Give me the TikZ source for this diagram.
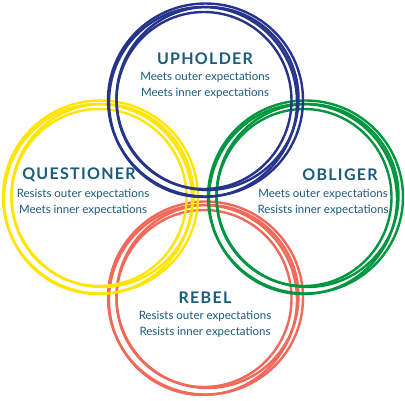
\documentclass[tikz,border=0pt]{standalone}
\usepackage{fontspec}
\setmainfont{Lato}
\newfontfamily\titlefont[LetterSpace=8]{Lato Bold}
\definecolor{ublue}{HTML}{27348B}
\definecolor{qyellow}{HTML}{FFE500}
\definecolor{ogreen}{HTML}{009640}
\definecolor{rred}{HTML}{F0695A}
\definecolor{txt}{HTML}{1A5C7E}
\newcommand{\myring}[3]{%
  \begin{scope}[shift={(#2,#3)}, draw=#1, line width=2.4pt]
    \draw (0.5,0) ellipse [x radius=97.5, y radius=96.5];
    \draw (-2,2) ellipse [x radius=94, y radius=95];
    \draw (2.5,-1.5) ellipse [x radius=91, y radius=91.5];
    \draw (-1,0.5) ellipse [x radius=87.5, y radius=88.5];
  \end{scope}}
\begin{document}
\begin{tikzpicture}[x=1pt,y=-1pt,
  ttl/.style={text=txt, font=\titlefont\fontsize{16}{18}\selectfont, inner sep=0pt},
  sub/.style={text=txt, font=\fontsize{11.5}{16}\selectfont, align=center, inner sep=0pt}]
\useasboundingbox[fill=white] (0,0) rectangle (405,400);
\myring{rred}{205}{298}
\myring{qyellow}{100}{197}
\myring{ogreen}{305}{197}
\myring{ublue}{205}{100}
\node[ttl] (uph) at (205,59) {UPHOLDER};
\node[sub] (uphs) at (205,85) {Meets outer expectations\\Meets inner expectations};
\node[ttl] (que) at (79,175) {QUESTIONER};
\node[sub] (ques) at (83,202) {Resists outer expectations\\Meets inner expectations};
\node[ttl] (obl) at (340,175) {OBLIGER};
\node[sub] (obls) at (323,202) {Meets outer expectations\\Resists inner expectations};
\node[ttl] (reb) at (205,298) {REBEL};
\node[sub] (rebs) at (205,324) {Resists outer expectations\\Resists inner expectations};
\end{tikzpicture}
\end{document}
